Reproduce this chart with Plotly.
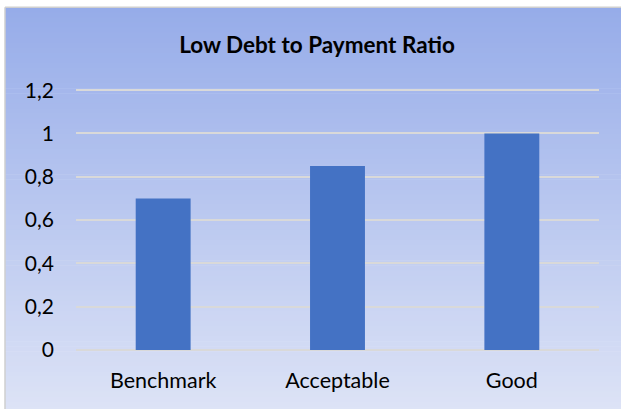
import plotly.graph_objects as go

categories = ["Benchmark", "Acceptable", "Good"]
values = [0.7, 0.85, 1.0]
tick_vals = [0, 0.2, 0.4, 0.6, 0.8, 1.0, 1.2]
tick_text = ["0", "0,2", "0,4", "0,6", "0,8", "1", "1,2"]
title_text = "Low Debt to Payment Ratio"

W, H = 621, 409
YMAX = 1.21
L, R, B = 76, 22, 59
ph = 260 * YMAX / 1.2
T = H - B - ph
pw = W - L - R

def px_x(px):
    return (px - L) / pw

def px_y(py):
    return (H - B - py) / ph

top_rgb = (150, 172, 233)
bot_rgb = (221, 227, 246)
shapes = []
n = 80
y0px, y1px = 7, 412
for i in range(n):
    a = y0px + (y1px - y0px) * i / n
    b = y0px + (y1px - y0px) * (i + 1) / n + 0.6
    t = (i + 0.5) / n
    c = tuple(round(top_rgb[k] + (bot_rgb[k] - top_rgb[k]) * t) for k in range(3))
    shapes.append(dict(type="rect", xref="paper", yref="paper",
                       x0=px_x(5), x1=px_x(640), y0=px_y(a), y1=px_y(b),
                       fillcolor="rgb(%d,%d,%d)" % c, line=dict(width=0), layer="below"))
shapes.append(dict(type="line", xref="paper", yref="paper", x0=px_x(5), x1=px_x(5),
                   y0=px_y(7), y1=px_y(412), line=dict(color="#CFCFCF", width=1.5), layer="below"))
shapes.append(dict(type="line", xref="paper", yref="paper", x0=px_x(5), x1=px_x(640),
                   y0=px_y(7), y1=px_y(7), line=dict(color="#CFCFCF", width=1.5), layer="below"))

fig = go.Figure(go.Bar(x=categories, y=values, marker=dict(color="#4472C4", line=dict(width=0)),
                       width=0.315))

fig.update_layout(
    width=W, height=H,
    margin=dict(l=L, r=R, t=T, b=B, pad=0),
    paper_bgcolor="white",
    plot_bgcolor="rgba(0,0,0,0)",
    separators=",.",
    shapes=shapes,
    showlegend=False,
    title=dict(text="<b>" + title_text + "</b>", x=px_x(317), xanchor="center", xref="paper",
               y=1 - 45 / H, yanchor="middle",
               font=dict(family="Lato", size=22.5, color="#000000")),
    font=dict(family="Lato", size=21, color="#000000"),
    xaxis=dict(showgrid=False, showline=False, zeroline=False, ticks="",
               ticklabelstandoff=15, tickfont=dict(size=21.5)),
    yaxis=dict(range=[0, YMAX], tickvals=tick_vals, ticktext=tick_text,
               showgrid=True, gridcolor="#D9D9D9", gridwidth=1.5,
               zeroline=True, zerolinecolor="#D9D9D9", zerolinewidth=1.5,
               showline=False, ticks="", ticklabelstandoff=21, tickfont=dict(size=21)),
)
fig.write_html("out.html")
